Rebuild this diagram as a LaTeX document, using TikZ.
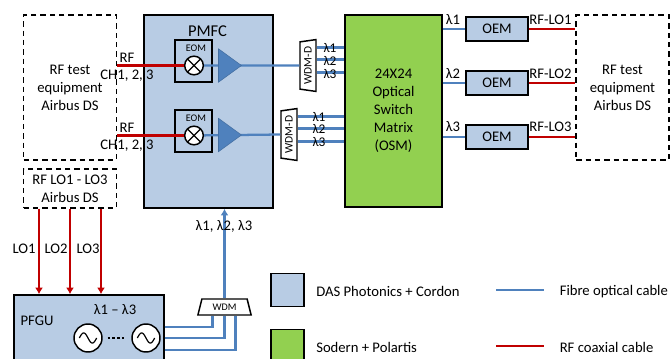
\documentclass[tikz,border=0pt]{standalone}
\usepackage{fontspec}
\setmainfont{Carlito}
\usetikzlibrary{arrows.meta,shapes.geometric}
\definecolor{dasblue}{HTML}{B8CCE4}
\definecolor{soderngreen}{HTML}{92D050}
\definecolor{fibreblue}{HTML}{4F81BD}
\definecolor{coaxred}{HTML}{C00000}
\tikzset{
  txt/.style={inner sep=0pt,align=center,font=\fontsize{11}{13.5}\selectfont},
  lamtxt/.style={inner sep=0pt,font=\fontsize{10}{11}\selectfont},
  smalltxt/.style={inner sep=0pt,font=\fontsize{7.6}{9}\selectfont},
  block/.style={draw,line width=1.1pt,inner sep=0pt,fill=dasblue},
  dashbox/.style={draw,line width=1.1pt,dash pattern=on 4pt off 3pt,inner sep=0pt,align=center,font=\fontsize{11}{13.5}\selectfont},
  fibre/.style={draw=fibreblue,line width=1.7pt},
  coax/.style={draw=coaxred,line width=1.7pt},
  mixer/.style={circle,draw,line width=1.1pt,inner sep=0pt,minimum size=14pt,fill=white,
    path picture={\draw[line width=.9pt] (path picture bounding box.north west) -- (path picture bounding box.south east)
      (path picture bounding box.north east) -- (path picture bounding box.south west);}},
  osc/.style={circle,draw,line width=1.1pt,inner sep=0pt,minimum size=21pt,fill=white,
    path picture={\draw[line width=.9pt,domain=-6.5:6.5,samples=30,smooth] plot[shift={(path picture bounding box.center)}] (\x pt,{-3.8*sin(\x*27.7)*1pt});}},
  amp/.style={isosceles triangle,isosceles triangle apex angle=72,draw=fibreblue!85!black,fill=fibreblue,inner sep=0pt,minimum height=17pt,minimum width=25pt},
  wdmd/.style={trapezium,draw,line width=1.1pt,fill=white,rotate=90,trapezium stretches=true,trapezium angle=76,minimum width=39pt,minimum height=12pt,inner sep=0pt,font=\fontsize{8.6}{9}\selectfont},
}
\begin{document}
\begin{tikzpicture}[x=.75pt,y=-.75pt]
\useasboundingbox (0,0) rectangle (671,358);
\clip (0,0) rectangle (671,358);
% blocks
\node[dashbox,minimum width=69.5pt,minimum height=108.5pt] (rftestl) at (70,87.5) {RF test\\equipment\\Airbus DS};
\node[dashbox,minimum width=69.5pt,minimum height=108.5pt] (rftestr) at (622.5,87.5) {RF test\\equipment\\Airbus DS};
\node[dashbox,minimum width=69.5pt,minimum height=29pt] (rflo) at (70,188.5) {RF LO1 - LO3\\Airbus DS};
\node[block,minimum width=96.75pt,minimum height=144.75pt] (pmfc) at (208.5,111.5) {};
\node[block,fill=soderngreen,minimum width=73pt,minimum height=144pt,align=center,font=\fontsize{11}{13.5}\selectfont] (osm) at (393.5,111) {24X24\\Optical\\Switch\\Matrix\\(OSM)};
\node[block,minimum width=112.5pt,minimum height=64.5pt] (pfgu) at (89,338) {};
\foreach \n/\y in {a/29,b/83,c/137}
  \node[block,minimum width=46.5pt,minimum height=18pt,font=\fontsize{11}{12}\selectfont] (oem\n) at (497,\y) {OEM};
\node[block,fill=none,minimum width=27.75pt,minimum height=31.5pt] (eoma) at (193.5,61) {};
\node[block,fill=none,minimum width=27.75pt,minimum height=31.5pt] (eomb) at (193.5,131) {};
\node[mixer] (mixa) at (194,65.5) {};
\node[mixer] (mixb) at (194,135.5) {};
\node[wdmd] (wdmda) at (308,65.5) {WDM-D};
\node[wdmd] (wdmdb) at (289,134.5) {WDM-D};
\node[trapezium,draw,line width=1.1pt,fill=white,trapezium stretches=true,trapezium angle=72,minimum width=40pt,minimum height=12pt,inner sep=0pt,font=\fontsize{7.6}{9}\selectfont] (wdm) at (224.5,307) {WDM};
\node[osc] (osca) at (88,338) {};
\node[osc] (oscb) at (146,338) {};
% fibres
\draw[fibre] (mixa) -- (wdmda.north);
\draw[fibre] (mixb) -- (wdmdb.north);
\foreach \d in {13.5,4.5,-5.25}
  \draw[fibre] ([yshift=\d pt]wdmda.south) -- ([yshift=\d pt]wdmda.south -| osm.west);
\foreach \d in {13.5,4.5,-5.25}
  \draw[fibre] ([yshift=\d pt]wdmdb.south) -- ([yshift=\d pt]wdmdb.south -| osm.west);
\foreach \n in {a,b,c}
  \draw[fibre] (oem\n.west -| osm.east) -- (oem\n.west);
\node[amp] (ampa) at (227,65.5) {};
\node[amp] (ampb) at (227,135) {};
\draw[fibre] ([yshift=8.25pt]pfgu.east) -| ([xshift=-9pt]wdm.south);
\draw[fibre] (pfgu.east) -| (wdm.south);
\draw[fibre] ([yshift=-9pt]pfgu.east) -| ([xshift=8.25pt]wdm.south);
\draw[fibre,-{Latex[length=5pt,width=6pt]}] (wdm.north) -- (wdm.north |- pmfc.south);
% coax
\draw[coax] (rftestl.east |- mixa) -- (mixa);
\draw[coax] (rftestl.east |- mixb) -- (mixb);
\foreach \n in {a,b,c}
  \draw[coax] (oem\n.east) -- (oem\n.east -| rftestr.west);
\draw[coax,-{Latex[length=5pt,width=6pt]}] ([xshift=-23.25pt]rflo.south) -- ([xshift=-23.25pt]rflo.south |- pfgu.north);
\draw[coax,-{Latex[length=5pt,width=6pt]}] (rflo.south) -- (rflo.south |- pfgu.north);
\draw[coax,-{Latex[length=5pt,width=6pt]}] ([xshift=23.25pt]rflo.south) -- ([xshift=23.25pt]rflo.south |- pfgu.north);
\draw[line width=1.5pt,dash pattern=on 1.8pt off 1.8pt,shorten <=3.6pt,shorten >=5pt] (osca) -- (oscb);
% labels
\node[txt,font=\fontsize{12.4}{14}\selectfont] (lblpmfc) at (207.5,31) {PMFC};
\node[txt] (lblpfgu) at (37,321) {PFGU};
\node[txt] (lblpfl) at (115,309.5) {λ1 – λ3};
\node[smalltxt] (lbleoma) at (196,48.5) {EOM};
\node[smalltxt] (lbleomb) at (196,118.5) {EOM};
\node[txt] (lblrfa) at (127,58) {RF};
\node[txt] (lblcha) at (127,76) {CH1, 2, 3};
\node[txt] (lblrfb) at (127,128) {RF};
\node[txt] (lblchb) at (127,146) {CH1, 2, 3};
\foreach \n/\y/\t in {a/48/1,b/60.5/2,c/73.5/3}
  \node[lamtxt] (lblup\n) at (330,\y) {λ\t};
\foreach \n/\y/\t in {a/117/1,b/129/2,c/142/3}
  \node[lamtxt] (lbldn\n) at (319,\y) {λ\t};
\foreach \n/\y/\t in {a/20/1,b/73.5/2,c/127/3}{
  \node[txt] (lblout\n) at (453,\y) {λ\t};
  \node[txt] (lblrflo\n) at (550.5,\y) {RF-LO\t};
}
\foreach \n/\x/\t in {a/24/1,b/56/2,c/88/3}
  \node[txt] (lbllo\n) at (\x,249) {LO\t};
\node[txt] (lbllams) at (224,226.5) {λ1, λ2, λ3};
% legend
\node[block,minimum width=25pt,minimum height=25pt] (keydas) at (287.5,290) {};
\node[block,fill=soderngreen,minimum width=25pt,minimum height=25pt] (keysod) at (287.5,346) {};
\node[txt,anchor=west] (lbldas) at (316,291.5) {DAS Photonics + Cordon};
\node[txt,anchor=west] (lblsod) at (316,347.5) {Sodern + Polartis};
\coordinate (fibrea) at (496,290);
\coordinate (fibreb) at (543.5,290);
\coordinate (coaxa) at (496,346);
\coordinate (coaxb) at (543.5,346);
\draw[fibre] (fibrea) -- (fibreb);
\draw[coax] (coaxa) -- (coaxb);
\node[txt,anchor=west] (lblfibre) at (559.5,291.5) {Fibre optical cable};
\node[txt,anchor=west] (lblcoax) at (559.5,347.5) {RF coaxial cable};
\end{tikzpicture}
\end{document}
